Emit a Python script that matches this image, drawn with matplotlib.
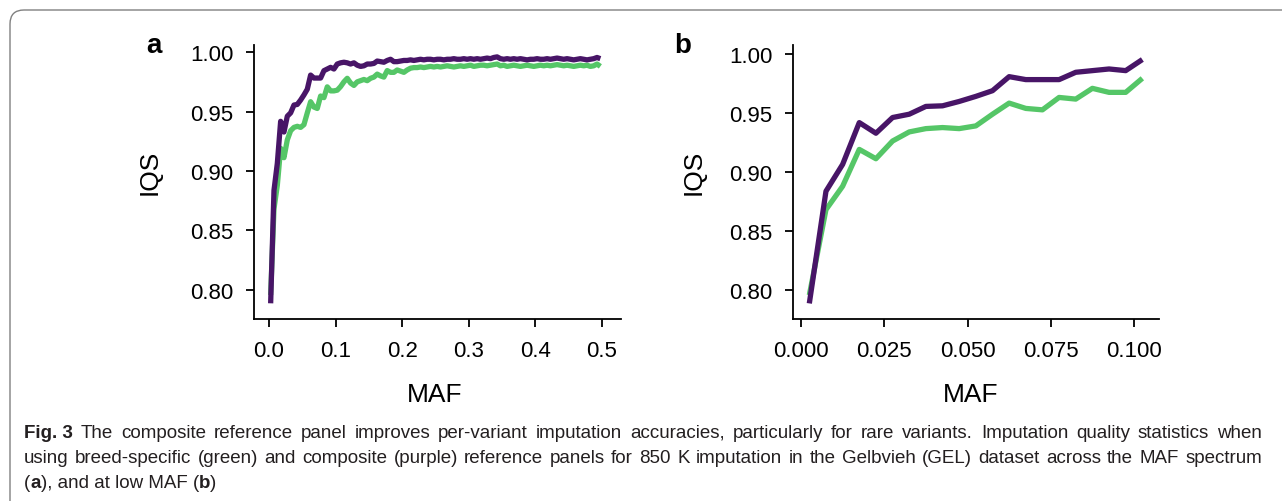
import matplotlib
matplotlib.use("Agg")
import matplotlib.pyplot as plt
from matplotlib.patches import FancyBboxPatch
from matplotlib.transforms import IdentityTransform

# ---------------- data ----------------
maf_b = [0.0025, 0.0075, 0.0125, 0.0175, 0.0225, 0.0275, 0.0325, 0.0375, 0.0425, 0.0475,
         0.0525, 0.0575, 0.0625, 0.0675, 0.0725, 0.0775, 0.0825, 0.0875, 0.0925, 0.0975, 0.1025]
composite_b = [0.7887, 0.8837, 0.9064, 0.9418, 0.9328, 0.9461, 0.9489, 0.9555, 0.9560, 0.9597,
               0.9640, 0.9688, 0.9807, 0.9782, 0.9782, 0.9782, 0.9844, 0.9858, 0.9872, 0.9858, 0.9952]
breed_b = [0.7957, 0.8681, 0.8879, 0.9191, 0.9112, 0.9262, 0.9339, 0.9367, 0.9376, 0.9367,
           0.9390, 0.9489, 0.9583, 0.9538, 0.9526, 0.9631, 0.9617, 0.9708, 0.9674, 0.9674, 0.9793]

maf_a = [round(0.0025 + 0.005 * i, 4) for i in range(100)]
composite_a = composite_b[:20] + [
    0.990, 0.991, 0.9915, 0.991, 0.990, 0.991,
    0.989, 0.988, 0.9885, 0.990, 0.990, 0.9905,
    0.9925, 0.992, 0.9915, 0.993, 0.994, 0.992,
    0.992, 0.9925, 0.993, 0.993, 0.9935, 0.993,
    0.9935, 0.994, 0.9935, 0.994, 0.994, 0.9935,
    0.994, 0.994, 0.9935, 0.994, 0.994, 0.9945,
    0.994, 0.994, 0.9945, 0.994, 0.9945, 0.994,
    0.9945, 0.994, 0.9945, 0.995, 0.9945, 0.9955,
    0.996, 0.9945, 0.994, 0.9945, 0.994, 0.9945,
    0.994, 0.9945, 0.994, 0.9935, 0.994, 0.994,
    0.9945, 0.994, 0.994, 0.9945, 0.994, 0.9945,
    0.995, 0.9945, 0.994, 0.9945, 0.994, 0.9935,
    0.994, 0.9945, 0.994, 0.9935, 0.994, 0.9945, 0.9955, 0.9945]
breed_a = breed_b[:20] + [
    0.968, 0.971, 0.975, 0.978, 0.974, 0.972,
    0.975, 0.976, 0.977, 0.976, 0.978, 0.979,
    0.9815, 0.980, 0.979, 0.9845, 0.983, 0.983,
    0.985, 0.984, 0.983, 0.985, 0.9865, 0.987,
    0.987, 0.9875, 0.987, 0.9875, 0.988, 0.9875,
    0.988, 0.9875, 0.988, 0.9885, 0.988, 0.9875,
    0.988, 0.9885, 0.988, 0.9885, 0.989, 0.988,
    0.9885, 0.989, 0.989, 0.9885, 0.989, 0.9895,
    0.990, 0.9885, 0.989, 0.988, 0.9885, 0.989,
    0.9885, 0.988, 0.9885, 0.989, 0.9885, 0.988,
    0.9885, 0.989, 0.9885, 0.989, 0.9885, 0.989,
    0.9895, 0.989, 0.9885, 0.989, 0.9885, 0.988,
    0.9885, 0.989, 0.9885, 0.989, 0.988, 0.9885, 0.990, 0.988]

yticks = [0.80, 0.85, 0.90, 0.95, 1.00]
xticks_a = [0.0, 0.1, 0.2, 0.3, 0.4, 0.5]
xticks_b = [0.000, 0.025, 0.050, 0.075, 0.100]

caption_line1 = "The composite reference panel improves per-variant imputation accuracies, particularly for rare variants. Imputation quality statistics when"
caption_line2 = "using breed-specific (green) and composite (purple) reference panels for 850 K imputation in the Gelbvieh (GEL) dataset across the MAF spectrum"

PURPLE = "#481567"
GREEN = "#55c667"

W, H = 1282, 502
plt.rcParams["font.family"] = ["Liberation Sans", "DejaVu Sans"]
fig = plt.figure(figsize=(W / 100, H / 100), dpi=100)
fig.patch.set_facecolor("white")

def px_axes(l, t, r, b):
    return [l / W, 1 - b / H, (r - l) / W, (b - t) / H]

ax_a = fig.add_axes(px_axes(254, 46, 621, 320))
ax_b = fig.add_axes(px_axes(793, 46, 1159, 320))

def style(ax, xticks, fmt, ylim, xlim):
    for s in ["top", "right"]:
        ax.spines[s].set_visible(False)
    for s in ["left", "bottom"]:
        ax.spines[s].set_linewidth(1.3)
    ax.set_xlim(*xlim)
    ax.set_ylim(*ylim)
    ax.set_yticks(yticks)
    ax.set_yticklabels([f"{v:.2f}" for v in yticks])
    ax.set_xticks(xticks)
    ax.set_xticklabels([fmt.format(v) for v in xticks])
    ax.tick_params(axis="both", length=6, width=1.3, pad=9, labelsize=16, colors="black")

ax_a.plot(maf_a, breed_a, color=GREEN, lw=3.8, solid_capstyle="butt", zorder=2)
ax_a.plot(maf_a, composite_a, color=PURPLE, lw=3.8, solid_capstyle="butt", zorder=3)
style(ax_a, xticks_a, "{:.1f}", (0.7755, 1.006), (-0.0225, 0.5285))

ax_b.plot(maf_b, breed_b, color=GREEN, lw=3.8, solid_capstyle="butt", zorder=2)
ax_b.plot(maf_b, composite_b, color=PURPLE, lw=3.8, solid_capstyle="butt", zorder=3)
style(ax_b, xticks_b, "{:.3f}", (0.7755, 1.0075), (-0.0024, 0.1075))

for ax, lx, mx in [(ax_a, -0.251, 0.493), (ax_b, -0.240, 0.484)]:
    ax.set_ylabel("IQS", fontsize=19)
    ax.yaxis.set_label_coords(lx, 0.54)
    ax.set_xlabel("MAF", fontsize=19)
    ax.xaxis.set_label_coords(mx, -0.23)

fig.text(154 / W, 1 - 46 / H, "a", fontsize=20, fontweight="bold", ha="center", va="center")
fig.text(683 / W, 1 - 46 / H, "b", fontsize=20, fontweight="bold", ha="center", va="center")

# border
box = FancyBboxPatch((10, -20), 1400, H - 11 + 20, boxstyle="round,pad=0,rounding_size=14",
                     transform=IdentityTransform(), facecolor="none", edgecolor="#808080", lw=1.0)
fig.patches.append(box)

# caption
CAP_FONT = ["Liberation Sans", "DejaVu Sans"]
CAP_COLOR = "#231f20"
CAP_SIZE = 13.5
X0, X1 = 24, 1262
renderer = fig.canvas.get_renderer()

def put(x, y_img, txt, bold=False):
    t = fig.text(x, H - y_img, txt, transform=IdentityTransform(), fontsize=CAP_SIZE,
                 family=CAP_FONT, fontweight="bold" if bold else "normal",
                 color=CAP_COLOR, ha="left", va="baseline")
    return t, t.get_window_extent(renderer)

def justified(pieces, y_img):
    arts = []
    total = 0.0
    for w, b in pieces:
        t, bb = put(0, y_img, w, b)
        arts.append((t, bb.width))
        total += bb.width
    gap = (X1 - X0 - total) / (len(arts) - 1)
    x = X0
    for t, w in arts:
        t.set_x(x)
        x += w + gap

justified([("Fig. 3", True)] + [(w, False) for w in caption_line1.split(" ")], 438)
justified([(w, False) for w in caption_line2.split(" ")], 463)

x = X0
for txt, b in [("(", False), ("a", True), ("), and at low MAF (", False), ("b", True), (")", False)]:
    t, bb = put(x, 488, txt, b)
    x = bb.x1

fig.savefig("out.png", dpi=100)
